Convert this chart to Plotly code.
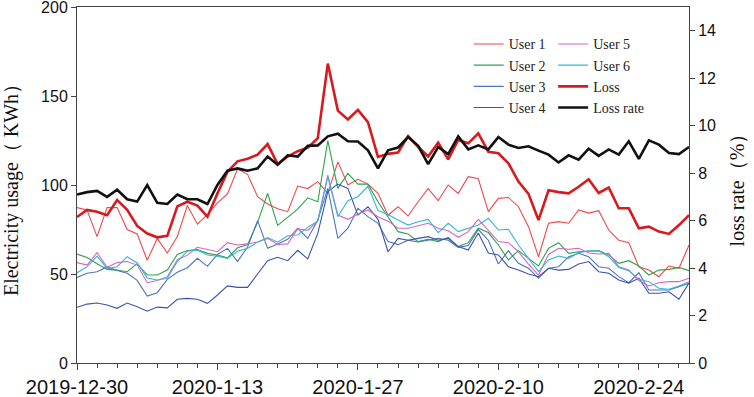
import pandas as pd
import plotly.graph_objects as go

dates = pd.date_range("2019-12-30", periods=62, freq="D")

user1 = [87.3, 86, 71, 87.3, 87.3, 75, 72.5, 57.7, 70, 61.8, 71, 88.5, 78, 83.3, 90, 95, 109, 106, 93.4, 89.3,
         86.6, 85, 99.4, 98, 101.9, 95.3, 113, 100, 103.2, 100.5, 95.3, 83, 87.8, 82.6, 90.6, 98, 91.2, 100, 95.3, 104.7,
         103.5, 85, 92.5, 93, 87.8, 76.6, 59.7, 78.5, 79.4, 78.5, 86, 84.2, 85.6, 74.7, 69, 67.6, 54, 52.2, 48.5, 54.5,
         53.2, 66.3]
user2 = [61.2, 59.3, 55.8, 52.6, 52.2, 51.3, 55.8, 49.4, 49.4, 52.2, 61, 63.2, 63.7, 61.6, 60.7, 59.1, 64.7, 66.5, 79, 95.3,
         77.3, 81.8, 86.4, 92.8, 90.6, 124.9, 98.1, 106.5, 100.5, 100.5, 90.6, 82, 73.8, 72.5, 68.2, 69.5, 68.2, 70.6, 65.4, 67.6,
         75.7, 73.3, 66.3, 57.9, 63.1, 58.8, 54.5, 64.4, 67.6, 61.6, 62.5, 62.8, 63.1, 60.7, 56, 57.5, 54.5, 49.4, 52.2, 52.6,
         53.7, 51.9]
user3 = [48.1, 50.4, 51.3, 54, 52, 50.4, 46.4, 37.6, 39.5, 47, 51, 53.5, 58.8, 54.3, 61, 64.4, 57, 65.2, 80, 64.4,
         66.8, 69.5, 75.7, 70, 80.3, 98.1, 70, 75.7, 86.9, 82.2, 78.5, 68.2, 66.5, 69, 68, 69, 70, 69, 65, 66,
         75, 69, 55.6, 63.1, 56, 53.2, 47.6, 53.2, 54.1, 59.7, 61.6, 59.7, 54.1, 53.2, 48.5, 45.1, 50.7, 41, 41, 41,
         42.9, 44.8]
user4 = [31.3, 33.1, 33.7, 32.6, 30.7, 33.7, 31.6, 29.1, 31.4, 31, 35.8, 36.3, 35.8, 33.5, 38.2, 43.3, 42.5, 42.5, 50, 57.5,
         59.4, 57.5, 63.3, 58.5, 72.8, 96.3, 100.5, 98.1, 83.1, 87.8, 80.7, 62.5, 70, 69, 70, 71, 69, 70, 65.4, 63.5,
         73, 61.8, 60.7, 54.1, 52.2, 50, 48.5, 53.2, 52.2, 52.6, 55.6, 57, 51.3, 50.4, 46.6, 44.8, 47.6, 39.2, 39.2, 40,
         35.8, 45]
user5 = [56.4, 55, 62, 53.8, 56.4, 57, 55, 45.1, 46.3, 48.5, 58, 60.6, 65, 63.9, 62.5, 67.6, 66.3, 66.9, 68, 70,
         66.6, 66.9, 75.4, 74.5, 79.8, 105.6, 83.1, 80.7, 83.7, 86, 82.2, 79.7, 75.7, 75.7, 77, 78.5, 75.7, 74.3, 70.6, 73.8,
         80.7, 74.3, 68.2, 67.6, 62.5, 55.6, 49.4, 61, 64.4, 63.9, 64.4, 61.8, 61.2, 61.6, 54.1, 52.2, 46.3, 43.3, 45.1, 45.7,
         45.7, 47.6]
user6 = [50.7, 54, 60, 53, 54.1, 59.7, 56.2, 47.8, 46.6, 47.6, 57, 62.8, 63.5, 60.7, 60, 58.8, 62.8, 64.4, 67.9, 70.5,
         67.9, 71.5, 71.9, 76.2, 79.8, 104.7, 82.2, 91.2, 93.4, 99.4, 85.6, 83.4, 80.3, 77.5, 79.4, 80.7, 73.2, 78.5, 73.8, 75.7,
         77.5, 81.3, 74.7, 75.1, 66.3, 58.8, 51.3, 57.9, 60.1, 58.8, 62, 63, 63.1, 59.7, 53.7, 51.9, 47, 45.7, 42, 41.4,
         43.3, 45.7]
loss = [82, 86, 85, 83, 91.6, 86, 77, 72.7, 70.6, 71.4, 88, 90.6, 88.4, 82.2, 95.3, 107.5, 113.3, 114.8, 117, 123,
        111.8, 116, 119, 121, 126.3, 168.2, 141.8, 136.8, 142.2, 135.3, 115.8, 117.5, 118.3, 127.5, 121.5, 116, 123.8, 114.4, 125.3, 123.4,
        129, 118.7, 117.8, 112.2, 101.9, 95, 80.3, 97, 96, 95.3, 99, 103.2, 95.5, 98.6, 86.9, 86.9, 75.7, 76.6, 73.8, 72.5,
        77.5, 83.1]
loss_rate = [7.1, 7.2, 7.25, 7.0, 7.3, 6.9, 6.8, 7.5, 6.75, 6.7, 7.1, 6.9, 6.9, 6.7, 7.5, 8.1, 8.2, 8.1, 8.2, 8.7,
             8.35, 8.75, 8.7, 9.15, 9.17, 9.55, 9.66, 9.34, 9.33, 8.96, 8.2, 8.96, 9.08, 9.52, 9.15, 8.38, 9.1, 8.8, 9.55, 9.0,
             9.17, 9.0, 9.52, 9.2, 9.06, 9.13, 8.95, 8.78, 8.45, 8.75, 8.57, 9.03, 8.73, 9.0, 8.78, 9.34, 8.6, 9.38, 9.2, 8.85,
             8.8, 9.1]

tick_dates = ["2019-12-30", "2020-01-13", "2020-01-27", "2020-02-10", "2020-02-24"]
tick_labels = ["2019-12-30", "2020-1-13", "2020-1-27", "2020-2-10", "2020-2-24"]

series = [
    ("User 1", user1, "#ec4a4c", 1.1, "legend"),
    ("User 2", user2, "#2ea349", 1.1, "legend"),
    ("User 3", user3, "#4f74bf", 1.1, "legend"),
    ("User 4", user4, "#3a52b0", 1.1, "legend"),
    ("User 5", user5, "#d963c6", 1.1, "legend2"),
    ("User 6", user6, "#35b5d8", 1.1, "legend2"),
    ("Loss", loss, "#d8191e", 2.6, "legend2"),
]

fig = go.Figure()
for name, vals, color, w, lg in series:
    fig.add_trace(go.Scatter(x=dates, y=vals, name=name, mode="lines",
                             line=dict(color=color, width=w), legend=lg))
fig.add_trace(go.Scatter(x=dates, y=loss_rate, name="Loss rate", mode="lines",
                         line=dict(color="#111111", width=2.6), yaxis="y2", legend="legend2"))

axis_col = "#444444"
legend_font = dict(family="Liberation Serif, Times New Roman, serif", size=14, color="#222")
tick_font_family = "Liberation Sans, Arial, sans-serif"
title_font = dict(family="Liberation Serif, Times New Roman, serif", size=20, color="#111")

fig.update_layout(
    width=754, height=397,
    margin=dict(l=77, r=65, t=7, b=34, autoexpand=False),
    paper_bgcolor="white", plot_bgcolor="white",
    showlegend=True,
    legend=dict(x=0.64, y=0.94, xanchor="left", yanchor="top", bgcolor="rgba(0,0,0,0)",
                font=legend_font, tracegroupgap=0),
    legend2=dict(x=0.778, y=0.94, xanchor="left", yanchor="top", bgcolor="rgba(0,0,0,0)",
                 font=legend_font, tracegroupgap=0),
    xaxis=dict(
        automargin=False,
        range=["2019-12-30", "2020-02-29"],
        tickvals=tick_dates, ticktext=tick_labels,
        ticks="outside", ticklen=6, tickwidth=1, tickcolor=axis_col,
        tickfont=dict(family=tick_font_family, size=20, color="#111"),
        showline=True, linecolor=axis_col, linewidth=1, mirror=True,
        showgrid=False, zeroline=False,
        minor=dict(dtick=2 * 86400000, tick0="2019-12-30", ticks="outside", ticklen=4,
                   tickcolor=axis_col, showgrid=False),
    ),
    yaxis=dict(
        automargin=False,
        range=[0, 200], tickvals=[0, 50, 100, 150, 200],
        ticks="outside", ticklen=5, tickcolor=axis_col,
        tickfont=dict(family=tick_font_family, size=16, color="#111"),
        ticklabeloverflow="allow",
        showline=True, linecolor=axis_col, linewidth=1,
        showgrid=False, zeroline=False,
        title=dict(text="Electricity usage（ KWh）", standoff=23, font=title_font),
    ),
    yaxis2=dict(
        automargin=False,
        range=[0, 15], tickvals=[0, 2, 4, 6, 8, 10, 12, 14],
        overlaying="y", side="right",
        ticks="outside", ticklen=5, tickcolor=axis_col,
        tickfont=dict(family=tick_font_family, size=16, color="#111"),
        ticklabeloverflow="allow",
        showline=True, linecolor=axis_col, linewidth=1,
        showgrid=False, zeroline=False,
        title=dict(text="loss rate（%）", standoff=14, font=title_font),
    ),
)

fig.write_html("out.html", config={"displayModeBar": False},
               post_script="document.body.style.margin='0px';")
